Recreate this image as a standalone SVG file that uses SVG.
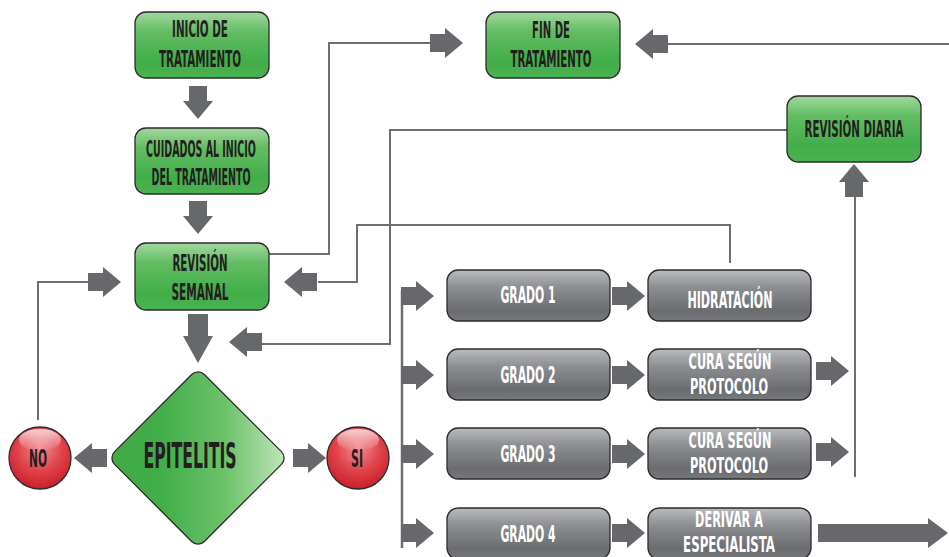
<svg xmlns="http://www.w3.org/2000/svg" width="949" height="557" viewBox="0 0 949 557">
<style>
.t{font-family:"Liberation Sans Narrow","DejaVu Sans Condensed","Liberation Sans",sans-serif;font-weight:bold;text-anchor:middle;font-size:23.5px}
.s{font-size:21px}
.dk{fill:#231f20}
.wh{fill:#ffffff}
.gbox{fill:url(#gGreen);stroke:#2b2b2b;stroke-width:1.3}
.ybox{fill:url(#gGray);stroke:#2b2b2b;stroke-width:1.3}
.ln{fill:none;stroke:#6d6e71;stroke-width:2}
.ar{fill:#67686b}
</style>
<defs>
<linearGradient id="gGreen" x1="0" y1="0" x2="0" y2="1">
<stop offset="0" stop-color="#a3d89f"/>
<stop offset="0.3" stop-color="#62bd62"/>
<stop offset="0.75" stop-color="#41ae49"/>
<stop offset="1" stop-color="#4cb152"/>
</linearGradient>
<linearGradient id="gGray" x1="0" y1="0" x2="0" y2="1">
<stop offset="0" stop-color="#b9bbbe"/>
<stop offset="0.35" stop-color="#8b8d90"/>
<stop offset="0.8" stop-color="#6b6c6f"/>
<stop offset="1" stop-color="#77787b"/>
</linearGradient>
<linearGradient id="gDia" x1="1" y1="0" x2="0" y2="1">
<stop offset="0" stop-color="#c2e6bd"/>
<stop offset="0.35" stop-color="#6cc26a"/>
<stop offset="0.7" stop-color="#41ae49"/>
<stop offset="1" stop-color="#3fa946"/>
</linearGradient>
<radialGradient id="gRed" cx="0.5" cy="0.35" r="0.65">
<stop offset="0" stop-color="#f28b90"/>
<stop offset="0.55" stop-color="#e0434b"/>
<stop offset="1" stop-color="#c8202a"/>
</radialGradient>
<linearGradient id="gShine" x1="0" y1="0" x2="0" y2="1">
<stop offset="0" stop-color="#ffffff" stop-opacity="0.75"/>
<stop offset="1" stop-color="#ffffff" stop-opacity="0"/>
</linearGradient>
<path id="arr" d="M0,-9 H15 V-15 L33,0 L15,15 V9 H0 Z"/>
</defs>

<g id="connectors">
<path class="ln" d="M38,420 V282 H92"/>
<path class="ln" d="M269,254 H329 V43 H432"/>
<path class="ln" d="M730,263 V225 H357 V282 H318"/>
<path class="ln" d="M787,130 H390 V344 H262"/>
<path class="ln" d="M949,44 H667"/>
<path class="ln" d="M855,477 V196"/>
<path class="ln" d="M402,290 V548" style="stroke-width:2.5"/>
<use href="#arr" class="ar" transform="translate(198,86) rotate(90)"/>
<use href="#arr" class="ar" transform="translate(198,201) rotate(90)"/>
<path class="ar" d="M188,314 H208 V336 H213 L198,363 L183,336 H188 Z"/>
<use href="#arr" class="ar" transform="translate(107,458) rotate(180)"/>
<use href="#arr" class="ar" transform="translate(293,458)"/>
<use href="#arr" class="ar" transform="translate(88,282)"/>
<use href="#arr" class="ar" transform="translate(317,282) rotate(180)"/>
<use href="#arr" class="ar" transform="translate(430,43)"/>
<use href="#arr" class="ar" transform="translate(668,44) rotate(180)"/>
<use href="#arr" class="ar" transform="translate(262,342) rotate(180)"/>
<use href="#arr" class="ar" transform="translate(854,197) rotate(-90)"/>
<use href="#arr" class="ar" transform="translate(401,296)"/>
<use href="#arr" class="ar" transform="translate(401,375)"/>
<use href="#arr" class="ar" transform="translate(401,454)"/>
<use href="#arr" class="ar" transform="translate(401,533)"/>
<use href="#arr" class="ar" transform="translate(612,296)"/>
<use href="#arr" class="ar" transform="translate(612,375)"/>
<use href="#arr" class="ar" transform="translate(612,454)"/>
<use href="#arr" class="ar" transform="translate(612,533)"/>
<use href="#arr" class="ar" transform="translate(816,371)"/>
<use href="#arr" class="ar" transform="translate(816,452)"/>
<path class="ar" d="M818,524 H928 V518 L948,533 L928,548 V542 H818 Z"/>
</g>

<g id="inicio">
<rect class="gbox" x="135" y="12" width="134" height="66" rx="11"/>
<text class="t dk" transform="translate(200,37) scale(0.6,1)" textLength="93" lengthAdjust="spacingAndGlyphs">INICIO DE</text>
<text class="t dk" transform="translate(200,67) scale(0.6,1)" textLength="137" lengthAdjust="spacingAndGlyphs">TRATAMIENTO</text>
</g>
<g id="cuidados">
<rect class="gbox" x="135" y="128" width="134" height="66" rx="11"/>
<text class="t dk" transform="translate(201,157) scale(0.6,1)" textLength="183" lengthAdjust="spacingAndGlyphs">CUIDADOS AL INICIO</text>
<text class="t dk" transform="translate(201,185) scale(0.6,1)" textLength="165" lengthAdjust="spacingAndGlyphs">DEL TRATAMIENTO</text>
</g>
<g id="revision-semanal">
<rect class="gbox" x="135" y="243" width="134" height="67" rx="11"/>
<text class="t dk" transform="translate(200,271) scale(0.6,1)" textLength="92" lengthAdjust="spacingAndGlyphs">REVISIÓN</text>
<text class="t dk" transform="translate(200,300) scale(0.6,1)" textLength="95" lengthAdjust="spacingAndGlyphs">SEMANAL</text>
</g>
<g id="fin">
<rect class="gbox" x="486" y="12" width="134" height="66" rx="11"/>
<text class="t dk" transform="translate(551,38) scale(0.6,1)" textLength="63" lengthAdjust="spacingAndGlyphs">FIN DE</text>
<text class="t dk" transform="translate(551,67) scale(0.6,1)" textLength="135" lengthAdjust="spacingAndGlyphs">TRATAMIENTO</text>
</g>
<g id="revision-diaria">
<rect class="gbox" x="787" y="96" width="134" height="66" rx="11"/>
<text class="t dk" transform="translate(854,137) scale(0.6,1)" textLength="165" lengthAdjust="spacingAndGlyphs">REVISIÓN DIARIA</text>
</g>
<g id="epitelitis">
<rect x="134.5" y="394.5" width="127" height="127" rx="9" fill="url(#gDia)" stroke="#2b2b2b" stroke-width="1.3" transform="rotate(45 198 458)"/>
<text class="t dk" transform="translate(190,468) scale(0.6,1)" style="font-size:36px" textLength="155" lengthAdjust="spacingAndGlyphs">EPITELITIS</text>
</g>
<g id="no">
<circle cx="40" cy="458" r="31" fill="url(#gRed)" stroke="#2b2b2b" stroke-width="1.3"/>
<ellipse cx="40" cy="440" rx="21" ry="11" fill="url(#gShine)"/>
<text class="t dk" transform="translate(38,467) scale(0.6,1)" style="font-size:25px" textLength="30" lengthAdjust="spacingAndGlyphs">NO</text>
</g>
<g id="si">
<circle cx="358" cy="458" r="31" fill="url(#gRed)" stroke="#2b2b2b" stroke-width="1.3"/>
<ellipse cx="358" cy="440" rx="21" ry="11" fill="url(#gShine)"/>
<text class="t dk" transform="translate(357,467) scale(0.6,1)" style="font-size:25px" textLength="20" lengthAdjust="spacingAndGlyphs">SI</text>
</g>
<g id="grado1">
<rect class="ybox" x="447" y="270" width="163" height="51" rx="11"/>
<text class="t wh" transform="translate(528,303) scale(0.6,1)" textLength="92" lengthAdjust="spacingAndGlyphs">GRADO 1</text>
</g>
<g id="grado2">
<rect class="ybox" x="447" y="349" width="163" height="51" rx="11"/>
<text class="t wh" transform="translate(528,383) scale(0.6,1)" textLength="92" lengthAdjust="spacingAndGlyphs">GRADO 2</text>
</g>
<g id="grado3">
<rect class="ybox" x="447" y="428" width="163" height="51" rx="11"/>
<text class="t wh" transform="translate(528,462) scale(0.6,1)" textLength="92" lengthAdjust="spacingAndGlyphs">GRADO 3</text>
</g>
<g id="grado4">
<rect class="ybox" x="447" y="508" width="163" height="51" rx="11"/>
<text class="t wh" transform="translate(528,542) scale(0.6,1)" textLength="92" lengthAdjust="spacingAndGlyphs">GRADO 4</text>
</g>
<g id="hidratacion">
<rect class="ybox" x="648" y="270" width="163" height="51" rx="11"/>
<text class="t wh" transform="translate(730,308) scale(0.6,1)" textLength="142" lengthAdjust="spacingAndGlyphs">HIDRATACIÓN</text>
</g>
<g id="cura2">
<rect class="ybox" x="648" y="349" width="163" height="51" rx="11"/>
<text class="t s wh" transform="translate(730,369) scale(0.6,1)" textLength="138" lengthAdjust="spacingAndGlyphs">CURA SEGÚN</text>
<text class="t s wh" transform="translate(729,394) scale(0.6,1)" textLength="130" lengthAdjust="spacingAndGlyphs">PROTOCOLO</text>
</g>
<g id="cura3">
<rect class="ybox" x="648" y="428" width="163" height="51" rx="11"/>
<text class="t s wh" transform="translate(730,448) scale(0.6,1)" textLength="138" lengthAdjust="spacingAndGlyphs">CURA SEGÚN</text>
<text class="t s wh" transform="translate(729,473) scale(0.6,1)" textLength="130" lengthAdjust="spacingAndGlyphs">PROTOCOLO</text>
</g>
<g id="derivar">
<rect class="ybox" x="648" y="508" width="163" height="51" rx="11"/>
<text class="t s wh" transform="translate(729,527) scale(0.6,1)" textLength="113" lengthAdjust="spacingAndGlyphs">DERIVAR A</text>
<text class="t s wh" transform="translate(729,552) scale(0.6,1)" textLength="153" lengthAdjust="spacingAndGlyphs">ESPECIALISTA</text>
</g>
</svg>
